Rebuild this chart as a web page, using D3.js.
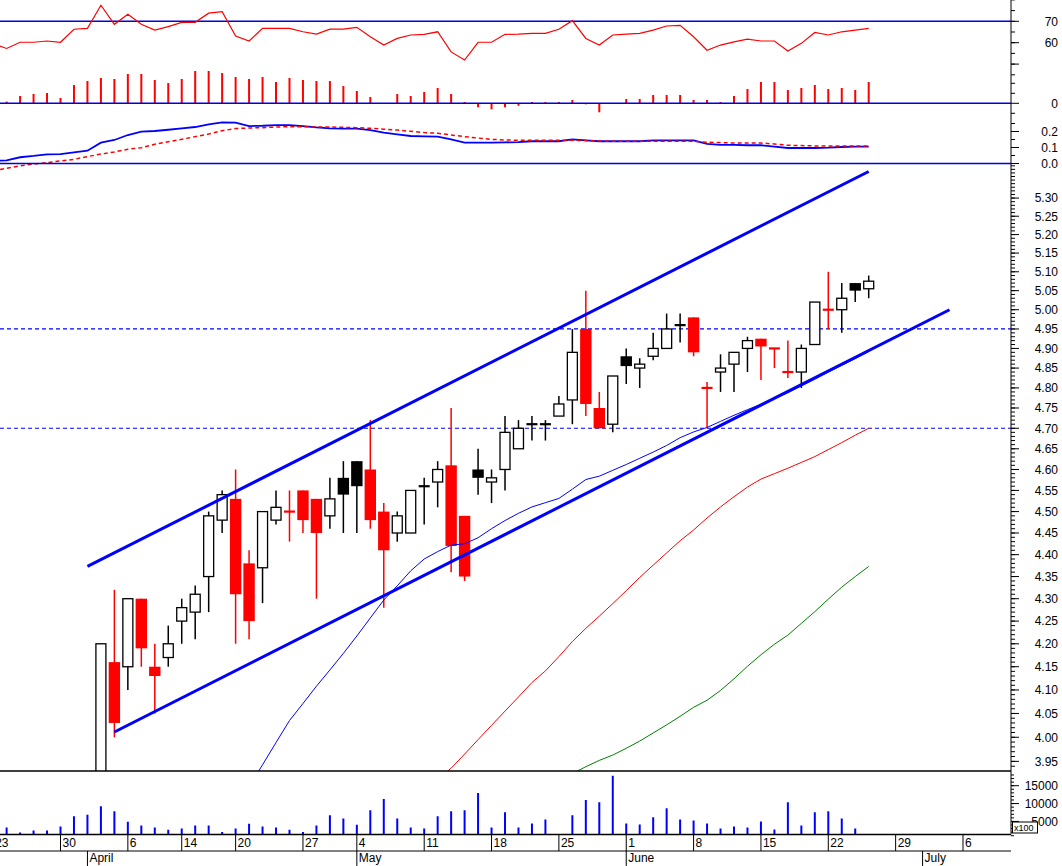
<!DOCTYPE html>
<html><head><meta charset="utf-8">
<script src="https://cdn.jsdelivr.net/npm/d3@7"></script>
<style>
html,body{margin:0;padding:0;background:#fff;}
svg{display:block;font-family:"Liberation Sans",Arial,sans-serif;}
</style></head><body>
<svg id="chart" width="1062" height="866"></svg>
<script>
// ---------------- DATA ----------------
const dates = [
"2009-03-23","2009-03-24","2009-03-25","2009-03-26","2009-03-27","2009-03-30","2009-03-31",
"2009-04-01","2009-04-02","2009-04-03","2009-04-06","2009-04-07","2009-04-08","2009-04-09",
"2009-04-14","2009-04-15","2009-04-16","2009-04-17","2009-04-20","2009-04-21","2009-04-22",
"2009-04-23","2009-04-24","2009-04-27","2009-04-28","2009-04-29","2009-04-30",
"2009-05-04","2009-05-05","2009-05-06","2009-05-07","2009-05-08","2009-05-11","2009-05-12",
"2009-05-13","2009-05-14","2009-05-15","2009-05-18","2009-05-19","2009-05-20","2009-05-21",
"2009-05-22","2009-05-25","2009-05-26","2009-05-27","2009-05-28","2009-05-29",
"2009-06-01","2009-06-02","2009-06-03","2009-06-04","2009-06-05","2009-06-08","2009-06-09",
"2009-06-10","2009-06-11","2009-06-12","2009-06-15","2009-06-16","2009-06-17","2009-06-18",
"2009-06-19","2009-06-22","2009-06-23","2009-06-24","2009-06-25"];
const futureDates = ["2009-06-26","2009-06-29","2009-06-30","2009-07-01","2009-07-02","2009-07-03","2009-07-06","2009-07-07"];

const ohlcStart = "2009-04-02";
const opens  = [3.80,4.16,4.15,4.30,4.15,4.17,4.25,4.27,4.35,4.48,4.53,4.38,4.37,4.48,4.50,4.55,4.53,4.49,4.58,4.62,4.60,4.50,4.45,4.45,4.56,4.57,4.61,4.49,4.60,4.57,4.60,4.65,4.71,4.71,4.73,4.77,4.95,4.75,4.71,4.88,4.85,4.88,4.90,4.96,4.98,4.80,4.84,4.86,4.90,4.925,4.90,4.84,4.84,4.91,5.00,5.00,5.07,5.055];
const highs  = [4.20,4.32,4.30,4.30,4.20,4.24,4.30,4.33,4.50,4.55,4.60,4.41,4.50,4.55,4.55,4.55,4.53,4.58,4.62,4.62,4.72,4.52,4.50,4.55,4.58,4.62,4.75,4.49,4.65,4.60,4.73,4.72,4.73,4.72,4.78,4.95,5.05,4.79,4.83,4.90,4.875,4.94,4.99,4.99,4.98,4.815,4.885,4.89,4.93,4.925,4.90,4.92,4.91,5.02,5.10,5.07,5.07,5.09];
const lows   = [3.80,4.00,4.10,4.15,4.05,4.15,4.20,4.21,4.27,4.45,4.20,4.21,4.29,4.47,4.43,4.45,4.30,4.46,4.45,4.45,4.46,4.28,4.43,4.45,4.47,4.51,4.36,4.34,4.54,4.52,4.55,4.65,4.67,4.67,4.73,4.71,4.73,4.70,4.69,4.81,4.80,4.87,4.90,4.915,4.88,4.70,4.79,4.79,4.84,4.82,4.85,4.825,4.80,4.91,4.95,4.94,5.02,5.03];
const closes = [4.20,4.03,4.30,4.19,4.13,4.20,4.28,4.31,4.49,4.54,4.31,4.25,4.50,4.51,4.50,4.48,4.45,4.53,4.54,4.56,4.48,4.41,4.49,4.55,4.56,4.60,4.42,4.35,4.58,4.58,4.69,4.70,4.71,4.71,4.76,4.89,4.76,4.70,4.83,4.855,4.86,4.90,4.95,4.96,4.89,4.80,4.85,4.89,4.92,4.905,4.90,4.84,4.90,5.02,5.00,5.03,5.05,5.075];

const maBlueStart = "2009-04-21";
const maBlue = [3.898,3.943,3.989,4.035,4.071,4.108,4.143,4.179,4.217,4.257,4.297,4.329,4.363,4.390,4.407,4.422,4.425,4.439,4.460,4.479,4.496,4.511,4.521,4.531,4.553,4.576,4.584,4.598,4.612,4.627,4.642,4.658,4.677,4.691,4.702,4.717,4.732,4.746,4.759,4.774,4.788,4.805,4.822,4.840,4.857,4.874,4.892];
const maRedStart = "2009-05-12";
const maRed = [3.912,3.936,3.965,3.995,4.025,4.055,4.085,4.116,4.141,4.172,4.205,4.234,4.261,4.289,4.318,4.348,4.376,4.404,4.432,4.457,4.485,4.511,4.535,4.558,4.577,4.590,4.603,4.617,4.631,4.648,4.665,4.683,4.700];
const maGreenStart = "2009-05-26";
const maGreen = [3.925,3.939,3.952,3.963,3.977,3.992,4.009,4.026,4.044,4.063,4.078,4.099,4.124,4.151,4.176,4.199,4.219,4.245,4.271,4.299,4.326,4.350,4.373];

const channelUpper = [{date:"2009-04-01", price:4.373},{date:"2009-06-25", price:5.374}];
const channelLower = [{date:"2009-04-03", price:4.011},{date:"2009-07-03", price:5.000}];
const levels = [4.95, 4.70];

const volStart = "2009-03-24";
const volumes = [3296,1875,2443,2443,3580,6421,6904,9262,7841,4915,3864,3296,2642,3011,3864,3864,2074,3011,4347,3580,3296,2642,2074,3864,6705,5852,4063,8125,11250,5852,3296,3011,6421,7841,8125,12955,3296,7557,3296,4432,5568,1360,6705,10966,10398,17785,4432,4148,6137,8693,5568,5284,4432,3011,3580,3296,5000,2727,10398,3864,7557,7841,5852,3011];

const rsiStart = "2009-03-23";
const rsi = [59.5,57.3,60.2,60.2,60.8,60.2,66.3,66.7,77.5,68.6,73.3,68.6,65.9,67.5,69.5,69.5,73.8,74.5,63.1,60.8,66.7,66.7,66.7,65.1,64.0,66.3,66.3,67.2,62.8,58.9,62.0,63.6,63.9,65.1,55.7,51.9,60.2,60.2,63.9,64.0,64.4,64.4,66.3,70.3,62.0,58.9,63.6,64.0,64.4,65.9,67.8,68.1,62.8,56.5,58.9,60.4,61.7,60.8,60.8,56.1,59.7,64.8,63.6,65.1,65.9,66.7];
const histStart = "2009-03-24";
const hist = [0.17,0.73,0.93,1.03,0.53,1.83,2.23,2.53,2.43,2.93,2.93,2.33,2.03,2.43,3.23,3.23,3.03,2.63,2.43,2.63,2.13,2.53,2.33,2.23,2.23,1.73,1.23,0.63,-0.07,0.93,0.73,1.13,1.53,0.93,0.13,-0.4,-0.6,-0.4,-0.24,0.13,0.13,0.13,0.33,-0.1,-0.9,0,0.43,0.43,0.83,0.83,0.83,0.33,0.33,0.13,0.73,1.43,2.13,2.13,1.33,1.53,1.83,1.43,1.53,1.33,2.13];
const macdStart = "2009-03-23";
const macd = [0.016,0.02,0.039,0.047,0.057,0.059,0.07,0.08,0.13,0.147,0.178,0.199,0.203,0.211,0.22,0.228,0.245,0.257,0.255,0.234,0.236,0.24,0.24,0.234,0.226,0.22,0.218,0.218,0.209,0.193,0.182,0.172,0.17,0.168,0.151,0.13,0.13,0.13,0.132,0.134,0.139,0.139,0.139,0.151,0.145,0.139,0.139,0.139,0.139,0.145,0.145,0.145,0.145,0.122,0.116,0.116,0.114,0.114,0.105,0.097,0.097,0.097,0.099,0.103,0.105,0.105];
const signal = [-0.045,-0.03,-0.015,-0.003,0.005,0.016,0.026,0.043,0.059,0.072,0.089,0.099,0.12,0.136,0.151,0.168,0.184,0.205,0.218,0.222,0.224,0.228,0.23,0.23,0.228,0.228,0.226,0.224,0.22,0.214,0.209,0.201,0.193,0.189,0.178,0.168,0.159,0.151,0.147,0.145,0.145,0.145,0.145,0.145,0.143,0.141,0.139,0.139,0.139,0.139,0.139,0.139,0.139,0.133,0.131,0.128,0.128,0.128,0.122,0.114,0.112,0.11,0.11,0.11,0.11,0.11];

const weekTickDates  = ["2009-03-23","2009-03-30","2009-04-06","2009-04-14","2009-04-20","2009-04-27","2009-05-04","2009-05-11","2009-05-18","2009-05-25","2009-06-01","2009-06-08","2009-06-15","2009-06-22","2009-06-29","2009-07-06"];
const weekTickLabels = ["23","30","6","14","20","27","4","11","18","25","1","8","15","22","29","6"];
const monthTickDates  = ["2009-04-01","2009-05-04","2009-06-01","2009-07-01"];
const monthTickLabels = ["April","May","June","July"];
const priceTicks = ["5.30","5.25","5.20","5.15","5.10","5.05","5.00","4.95","4.90","4.85","4.80","4.75","4.70","4.65","4.60","4.55","4.50","4.45","4.40","4.35","4.30","4.25","4.20","4.15","4.10","4.05","4.00","3.95"];
const rsiTicks = ["70","60"];
const macdTicks = ["0.2","0.1","0.0"];
const volTicks = ["15000","10000","5000"];

// ---------------- SCALES ----------------
const axisDates = dates.concat(futureDates);
const AX = 1011;
const x = d3.scaleLinear().domain([0, 73]).range([-6.85, -6.85 + 13.47*73]);
const xd = d => x(axisDates.indexOf(d));
const yP = d3.scaleLog().domain([3.9302, 5.3965]).range([771, 163.5]);
const yRSI = d3.scaleLinear().domain([60,70]).range([42.7,21.3]);
const yHist = d3.scaleLinear().domain([0,1]).range([103.3,93.3]);
const yMACD = d3.scaleLinear().domain([0,0.2]).range([163.5,131.5]);
const yVol = d3.scaleLinear().domain([0,15000]).range([839.3,785.7]);

const svg = d3.select("#chart");
const defs = svg.append("defs");
defs.append("clipPath").attr("id","mainClip").append("rect").attr("x",0).attr("y",163.5).attr("width",AX).attr("height",771-163.5);
defs.append("clipPath").attr("id","plotClip").append("rect").attr("x",0).attr("y",0).attr("width",AX).attr("height",866);
defs.append("clipPath").attr("id","volClip").append("rect").attr("x",0).attr("y",771).attr("width",AX).attr("height",834.5-771);

function series(start, vals){
  const s = dates.indexOf(start);
  return vals.map((v,j)=>({k:s+j, v}));
}

const plot = svg.append("g").attr("clip-path","url(#plotClip)");

// ---------- top panel: RSI + histogram ----------
plot.append("line").attr("x1",0).attr("x2",AX).attr("y1",yRSI(70)).attr("y2",yRSI(70)).attr("stroke","#0000e0").attr("stroke-width",1.5);
plot.append("g").selectAll("line").data(series(histStart,hist)).join("line")
  .attr("x1",d=>x(d.k)).attr("x2",d=>x(d.k)).attr("y1",yHist(0)).attr("y2",d=>yHist(d.v))
  .attr("stroke","#ff0000").attr("stroke-width",2);
plot.append("path").datum(series(rsiStart,rsi))
  .attr("d",d3.line().x(d=>x(d.k)).y(d=>yRSI(d.v)))
  .attr("fill","none").attr("stroke","#ff0000").attr("stroke-width",1.2);
plot.append("line").attr("x1",0).attr("x2",AX).attr("y1",yHist(0)).attr("y2",yHist(0)).attr("stroke","#0000e0").attr("stroke-width",1.5);

// ---------- MACD panel ----------
plot.append("path").datum(series(macdStart,macd))
  .attr("d",d3.line().x(d=>x(d.k)).y(d=>yMACD(d.v)))
  .attr("fill","none").attr("stroke","#0000ff").attr("stroke-width",1.8);
plot.append("path").datum(series(macdStart,signal))
  .attr("d",d3.line().x(d=>x(d.k)).y(d=>yMACD(d.v)))
  .attr("fill","none").attr("stroke","#ff0000").attr("stroke-width",1.5).attr("stroke-dasharray","4,3");
plot.append("line").attr("x1",0).attr("x2",AX).attr("y1",yMACD(0)).attr("y2",yMACD(0)).attr("stroke","#0000e0").attr("stroke-width",1.5);

// ---------- main panel ----------
const main = svg.append("g").attr("clip-path","url(#mainClip)");
main.append("g").selectAll("line").data(levels).join("line")
  .attr("x1",0).attr("x2",AX).attr("y1",d=>yP(d)).attr("y2",d=>yP(d))
  .attr("stroke","#0000ff").attr("stroke-width",1.2).attr("stroke-dasharray","4,3");

const k0 = dates.indexOf(ohlcStart);
const candles = opens.map((o,j)=>({k:k0+j,o,h:highs[j],l:lows[j],c:closes[j],pc:j>0?closes[j-1]:null}));
const cg = main.append("g");
candles.forEach(d=>{
  const col = (d.pc!==null && d.c < d.pc) ? "#ff0000" : "#000000";
  const cx = x(d.k);
  cg.append("line").attr("x1",cx).attr("x2",cx).attr("y1",yP(d.h)).attr("y2",yP(d.l)).attr("stroke",col).attr("stroke-width",1.5);
  if (d.c > d.o) {
    cg.append("rect").attr("x",cx-5).attr("width",10).attr("y",yP(d.c)).attr("height",Math.max(1,yP(d.o)-yP(d.c)))
      .attr("fill","#ffffff").attr("stroke",col).attr("stroke-width",1.3);
  } else if (d.c < d.o) {
    cg.append("rect").attr("x",cx-5.7).attr("width",11.4).attr("y",yP(d.o)).attr("height",Math.max(1,yP(d.c)-yP(d.o)))
      .attr("fill",col);
  } else {
    cg.append("line").attr("x1",cx-5.5).attr("x2",cx+5.5).attr("y1",yP(d.o)).attr("y2",yP(d.o)).attr("stroke",col).attr("stroke-width",2.2);
  }
});

const lineP = d3.line().defined(d=>d.v!=null).x(d=>x(d.k)).y(d=>yP(d.v));
main.append("path").datum(series(maGreenStart,maGreen)).attr("d",lineP).attr("fill","none").attr("stroke","#008000").attr("stroke-width",1);
main.append("path").datum(series(maRedStart,maRed)).attr("d",lineP).attr("fill","none").attr("stroke","#ff0000").attr("stroke-width",1);
main.append("path").datum(series(maBlueStart,maBlue)).attr("d",lineP).attr("fill","none").attr("stroke","#0000ff").attr("stroke-width",1);

[channelUpper, channelLower].forEach(ch=>{
  main.append("line").attr("x1",xd(ch[0].date)).attr("y1",yP(ch[0].price)).attr("x2",xd(ch[1].date)).attr("y2",yP(ch[1].price))
    .attr("stroke","#0000ff").attr("stroke-width",3);
});

svg.append("line").attr("x1",0).attr("x2",AX).attr("y1",771).attr("y2",771).attr("stroke","#000").attr("stroke-width",1.5);

// ---------- volume ----------
svg.append("g").attr("clip-path","url(#volClip)").selectAll("line").data(series(volStart,volumes)).join("line")
  .attr("x1",d=>x(d.k)).attr("x2",d=>x(d.k)).attr("y1",yVol(0)).attr("y2",d=>yVol(d.v))
  .attr("stroke","#0000ff").attr("stroke-width",2);

// ---------- x axis ----------
svg.append("line").attr("x1",0).attr("x2",AX).attr("y1",834.5).attr("y2",834.5).attr("stroke","#000").attr("stroke-width",1.5);
svg.append("line").attr("x1",0).attr("x2",AX).attr("y1",851).attr("y2",851).attr("stroke","#000").attr("stroke-width",1);
const wt = svg.append("g");
weekTickDates.forEach((d,j)=>{
  const px = xd(d);
  wt.append("line").attr("x1",px).attr("x2",px).attr("y1",834.5).attr("y2",851).attr("stroke","#000").attr("stroke-width",1);
  wt.append("text").attr("x",px+2).attr("y",847).attr("font-size",12).text(weekTickLabels[j]);
});
monthTickDates.forEach((d,j)=>{
  const px = xd(d);
  wt.append("line").attr("x1",px).attr("x2",px).attr("y1",851).attr("y2",866).attr("stroke","#000").attr("stroke-width",1);
  wt.append("text").attr("x",px+2).attr("y",862).attr("font-size",12).text(monthTickLabels[j]);
});

// ---------- right axis ----------
const ax = svg.append("g");
ax.append("line").attr("x1",AX).attr("x2",AX).attr("y1",0).attr("y2",834.5).attr("stroke","#000").attr("stroke-width",1);
function tick(y,len){ ax.append("line").attr("x1",AX).attr("x2",AX+len).attr("y1",y).attr("y2",y).attr("stroke","#000").attr("stroke-width",1); }
function label(y,t){ ax.append("text").attr("x",1058).attr("y",y).attr("dy","0.36em").attr("text-anchor","end").attr("font-size",12).text(t); }
// price minor ticks
d3.range(394,540).forEach(c=>tick(yP(c/100),4));
priceTicks.forEach(t=>{ tick(yP(+t),8); label(yP(+t),t); });
// RSI ticks
d3.range(45,81,5).forEach(v=>tick(yRSI(v),4));
tick(yRSI(50),8);
rsiTicks.forEach(t=>{ tick(yRSI(+t),8); label(yRSI(+t),t); });
[1,2,-1].forEach(v=>tick(yHist(v),4));
tick(yHist(0),8); label(yHist(0),"0");
// MACD ticks
d3.range(0,0.26,0.05).forEach(v=>tick(yMACD(v),4));
macdTicks.forEach(t=>{ tick(yMACD(+t),8); label(yMACD(+t),t); });
// Volume ticks
d3.range(1000,19000,1000).forEach(v=>{ if (yVol(v) > 772) tick(yVol(v),3); });
volTicks.forEach(t=>{ tick(yVol(+t),8); label(yVol(+t),t); });
ax.append("rect").attr("x",1012.5).attr("y",822).attr("width",25).attr("height",11).attr("fill","#fff").attr("stroke","#000").attr("stroke-width",1);
ax.append("text").attr("x",1014).attr("y",831).attr("font-size",9).text("x100");
</script>
</body></html>
